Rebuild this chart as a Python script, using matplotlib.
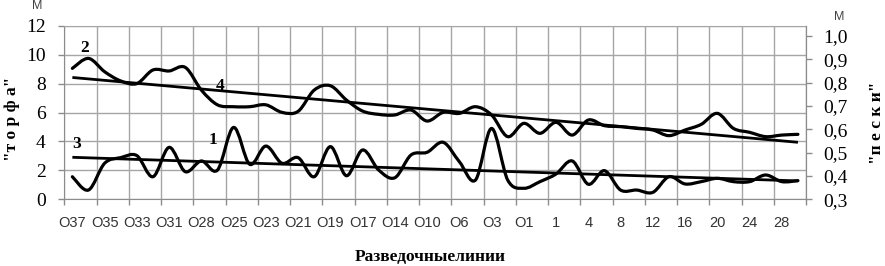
import numpy as np
import matplotlib
matplotlib.use("Agg")
import matplotlib.pyplot as plt
from matplotlib.path import Path
from matplotlib.patches import PathPatch

# ---- data ----
tick_labels = ["О37", "О35", "О33", "О31", "О28", "О25", "О23", "О21", "О19", "О17",
               "О14", "О10", "О6", "О3", "О1", "1", "4", "8", "12", "16", "20", "24", "28"]

series1 = [1.56, 0.64, 2.49, 2.88, 3.02, 1.56, 3.59, 1.91, 2.65, 2.02,
           4.97, 2.42, 3.68, 2.49, 2.88, 1.56, 3.64, 1.63, 3.41, 2.02,
           1.49, 3.06, 3.25, 3.94, 2.60, 1.33, 4.90, 1.33, 0.76, 1.22,
           1.75, 2.65, 1.04, 1.98, 0.64, 0.64, 0.48, 1.56, 1.06, 1.22,
           1.45, 1.22, 1.22, 1.68, 1.22, 1.29]

series2 = [9.05, 9.74, 8.82, 8.18, 8.00, 8.94, 8.87, 9.12, 7.55, 6.53,
           6.40, 6.40, 6.53, 6.01, 6.08, 7.55, 7.85, 6.86, 6.10, 5.87,
           5.83, 6.17, 5.41, 6.01, 5.94, 6.40, 5.83, 4.33, 5.25, 4.56,
           5.32, 4.44, 5.48, 5.09, 5.02, 4.90, 4.79, 4.40, 4.79, 5.18,
           5.94, 4.90, 4.63, 4.33, 4.44, 4.49]

left_ticks = [0, 2, 4, 6, 8, 10, 12]
right_ticks = [0.3, 0.4, 0.5, 0.6, 0.7, 0.8, 0.9, 1.0]
right_tick_labels = ["0,3", "0,4", "0,5", "0,6", "0,7", "0,8", "0,9", "1,0"]

curve_labels = ["1", "2", "3", "4"]

# ---- figure ----
W, H = 885, 266
fig = plt.figure(figsize=(W / 100, H / 100), dpi=100)
ax = fig.add_axes([64.3 / W, (H - 199.3) / H, (806 - 64.3) / W, (199.3 - 25.7) / H])

n = len(series1)
x = np.arange(n)

GRID = "#a6a6a6"
SPINE = "#8c8c8c"


def smooth_path(xs, ys):
    """Excel-style smoothed line (Catmull-Rom as cubic Bezier)."""
    pts = np.column_stack([xs, ys]).astype(float)
    verts = [pts[0]]
    codes = [Path.MOVETO]
    m = len(pts)
    for i in range(m - 1):
        p0 = pts[i - 1] if i > 0 else pts[i]
        p1 = pts[i]
        p2 = pts[i + 1]
        p3 = pts[i + 2] if i + 2 < m else pts[i + 1]
        c1 = p1 + (p2 - p0) / 6.0
        c2 = p2 - (p3 - p1) / 6.0
        verts += [c1, c2, p2]
        codes += [Path.CURVE4] * 3
    return Path(verts, codes)


for s in (series1, series2):
    ax.add_patch(PathPatch(smooth_path(x, s), fill=False, edgecolor="black",
                           lw=2.3, capstyle="round", joinstyle="round", zorder=4))

# linear trend lines
for s in (series1, series2):
    k, b = np.polyfit(x, s, 1)
    ax.plot(x, k * x + b, color="black", lw=2.0, zorder=3, solid_capstyle="butt")

ax.set_xlim(-0.5, n - 0.5)
ax.set_ylim(0, 12)

# x ticks: labels at even categories, gridlines/ticks at boundaries
ax.set_xticks(x[::2])
ax.set_xticklabels(tick_labels, fontfamily="Liberation Sans", fontsize=10.5, color="#333333")
ax.set_xticks(np.arange(-0.5, n, 2), minor=True)
ax.tick_params(axis="x", which="major", length=0, pad=12)
ax.tick_params(axis="x", which="minor", length=4.5, width=1, color=SPINE, direction="out")
ax.grid(True, axis="x", which="minor", color=GRID, lw=1)

ax.set_yticks(left_ticks)
ax.set_yticklabels([str(v) for v in left_ticks], fontfamily="Liberation Serif", fontsize=14)
ax.tick_params(axis="y", length=4.5, width=1, color=SPINE, pad=9)
ax.grid(True, axis="y", which="major", color=GRID, lw=1)
ax.set_axisbelow(True)

for side in ("left", "bottom", "right"):
    ax.spines[side].set_color(SPINE)
ax.spines["top"].set_color(GRID)

ax2 = ax.twinx()
ax2.set_ylim(0.3, 0.3 + (199.3 - 25.7) / 233.3)
ax2.set_yticks(right_ticks)
ax2.set_yticklabels(right_tick_labels, fontfamily="Liberation Serif", fontsize=14)
ax2.tick_params(axis="y", length=4.5, width=1, color=SPINE, pad=8)
for side in ("left", "bottom", "right", "top"):
    ax2.spines[side].set_visible(False)
ax2.spines["right"].set_visible(True)
ax2.spines["right"].set_color(SPINE)

# curve number labels
label_pos = [(8.7, 4.1), (0.78, 10.46), (0.27, 3.8), (9.16, 7.85)]
for t, (lx, ly) in zip(curve_labels, label_pos):
    ax.text(lx, ly, t, fontfamily="Liberation Serif", fontweight="bold", fontsize=12.5,
            ha="center", va="center", zorder=5)

# axis titles
fig.text(12 / W, 1 - 119 / H, '"т о р ф а"', rotation=90, ha="center", va="center",
         fontfamily="Liberation Serif", fontweight="bold", fontsize=12.5)
fig.text(877 / W, 1 - 123 / H, '"п е с к и"', rotation=90, ha="center", va="center",
         fontfamily="Liberation Serif", fontweight="bold", fontsize=12.5)
fig.text(430 / W, 1 - 257 / H, "Разведочныелинии", ha="center", va="center",
         fontfamily="Liberation Serif", fontweight="bold", fontsize=12.5)
fig.text(37.5 / W, 1 - 6 / H, "М", ha="center", va="center",
         fontfamily="Liberation Sans", fontsize=9, color="#444444")
fig.text(839 / W, 1 - 17 / H, "М", ha="center", va="center",
         fontfamily="Liberation Sans", fontsize=9, color="#444444")

fig.savefig("out.png", dpi=100)
